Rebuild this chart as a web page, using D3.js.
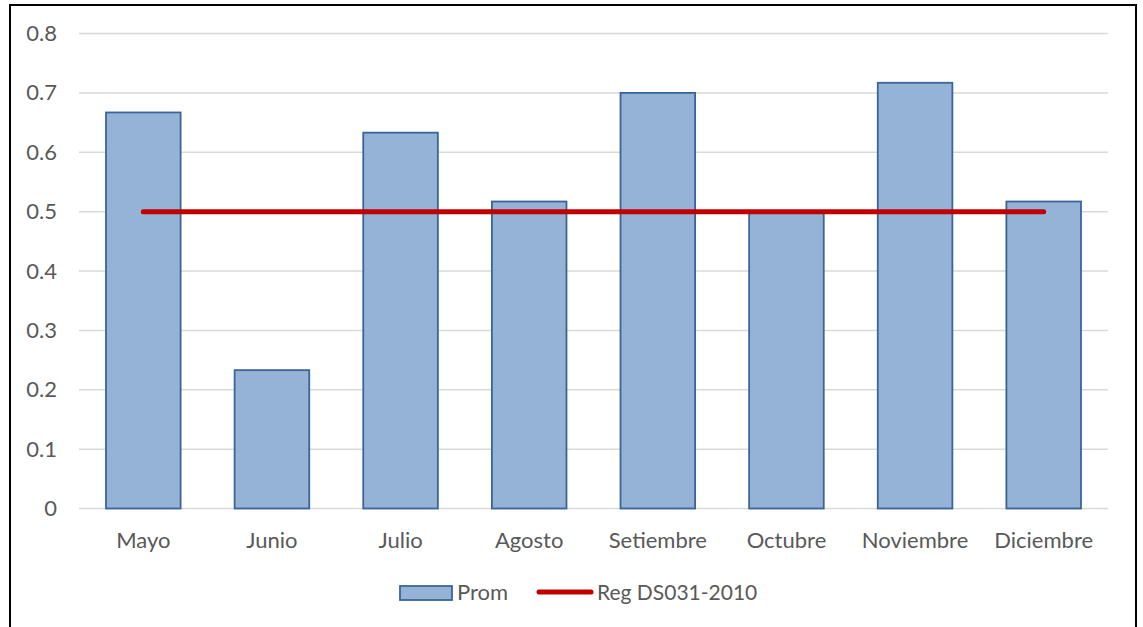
<!DOCTYPE html>
<html>
<head>
<meta charset="utf-8">
<script src="https://cdn.jsdelivr.net/npm/d3@7"></script>
<style>
  html, body { margin: 0; padding: 0; background: #fff; }
  svg { display: block; }
  text { font-family: Lato, "Open Sans", sans-serif; fill: #595959; }
</style>
</head>
<body>
<svg id="chart" width="1143" height="627"></svg>
<script>
const categories = ["Mayo", "Junio", "Julio", "Agosto", "Setiembre", "Octubre", "Noviembre", "Diciembre"];
const promValues = [0.667, 0.233, 0.633, 0.517, 0.700, 0.500, 0.717, 0.517];
const regValues = [0.5, 0.5, 0.5, 0.5, 0.5, 0.5, 0.5, 0.5];
const yTicks = [0, 0.1, 0.2, 0.3, 0.4, 0.5, 0.6, 0.7, 0.8];
const seriesNames = ["Prom", "Reg DS031-2010"];

const svg = d3.select("#chart");
const plotLeft = 79, plotRight = 1108, plotTop = 33.5, plotBottom = 508.5;
const fontSize = 22;

// outer border
svg.append("rect")
  .attr("x", 10).attr("y", 5)
  .attr("width", 1126).attr("height", 640)
  .attr("fill", "none").attr("stroke", "#000").attr("stroke-width", 2);

const x = d3.scaleBand().domain(categories).range([plotLeft, plotRight]).paddingInner(0.42).paddingOuter(0.21);
const y = d3.scaleLinear().domain([0, 0.8]).range([plotBottom, plotTop]);

// gridlines
svg.append("g").selectAll("line").data(yTicks).join("line")
  .attr("x1", plotLeft).attr("x2", plotRight)
  .attr("y1", d => y(d)).attr("y2", d => y(d))
  .attr("stroke", "#D9D9D9").attr("stroke-width", 1.5);

// y axis labels
const yAxis = d3.axisLeft(y).tickValues(yTicks).tickSize(0).tickPadding(0)
  .tickFormat(d => d === 0 ? "0" : d3.format(".1f")(d));
const gy = svg.append("g").attr("transform", `translate(57,0)`).call(yAxis);
gy.select(".domain").remove();
gy.selectAll("text").style("font-size", fontSize + "px").attr("fill", "#595959")
  .style("font-family", "Lato, 'Open Sans', sans-serif");

// bars
svg.append("g").selectAll("rect").data(promValues).join("rect")
  .attr("x", (d, i) => x(categories[i]))
  .attr("width", x.bandwidth())
  .attr("y", d => y(d))
  .attr("height", d => y(0) - y(d))
  .attr("fill", "#95B3D7")
  .attr("stroke", "#3A6598").attr("stroke-width", 1.8);

// x axis labels
const xAxis = d3.axisBottom(x).tickSize(0).tickPadding(0);
const gx = svg.append("g").attr("transform", `translate(0,${plotBottom + 24})`).call(xAxis);
gx.select(".domain").remove();
gx.selectAll("text").style("font-size", fontSize + "px").attr("fill", "#595959")
  .style("font-family", "Lato, 'Open Sans', sans-serif");

// regulation line
const line = d3.line()
  .x((d, i) => x(categories[i]) + x.bandwidth() / 2)
  .y(d => y(d));
svg.append("path").datum(regValues)
  .attr("d", line)
  .attr("fill", "none").attr("stroke", "#C00000")
  .attr("stroke-width", 5).attr("stroke-linecap", "round");

// legend
const lg = svg.append("g");
lg.append("rect").attr("x", 400).attr("y", 586).attr("width", 52).attr("height", 14)
  .attr("fill", "#95B3D7").attr("stroke", "#3A6598").attr("stroke-width", 1.8);
lg.append("text").attr("x", 457).attr("y", 600).text(seriesNames[0])
  .style("font-size", fontSize + "px");
lg.append("line").attr("x1", 539).attr("x2", 591).attr("y1", 592).attr("y2", 592)
  .attr("stroke", "#C00000").attr("stroke-width", 5).attr("stroke-linecap", "round");
lg.append("text").attr("x", 597).attr("y", 600).text(seriesNames[1])
  .style("font-size", "21px");
</script>
</body>
</html>
